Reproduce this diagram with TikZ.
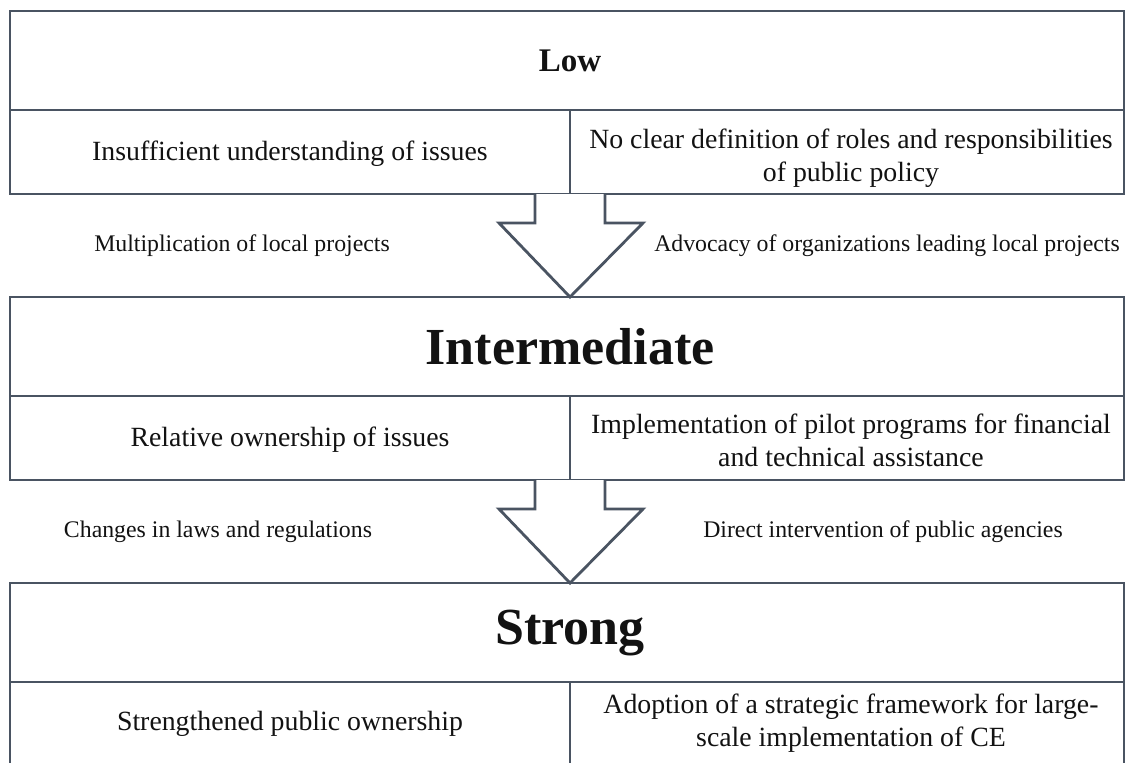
\documentclass[tikz,border=0pt]{standalone}
\usepackage{fontspec}
\setmainfont{Liberation Serif}
\definecolor{framegray}{RGB}{74,84,98}
\definecolor{inkblack}{RGB}{18,18,18}
\tikzset{
	frame/.style={draw=framegray, line width=1.4pt},
	flowarrow/.style={frame, fill=white, line join=miter},
}
\begin{document}
\begin{tikzpicture}[x=.5pt, y=-.5pt]
	\useasboundingbox[fill=white] (0, 0) rectangle (1125, 762);
	% level frames
	\foreach \top in {11, 297, 583} {
		\draw[frame] (10, \top) rectangle (1124, \top + 183);
		\draw[frame] (10, \top + 99) -- (1124, \top + 99);
		\draw[frame] (570, \top + 99) -- (570, \top + 183);
	}
	\begin{scope}[every node/.style={text=inkblack, inner sep=0pt, align=center}]
		\node[font=\fontsize{16.5}{20}\selectfont\bfseries] (low) at (570, 61) {Low};
		\node[font=\fontsize{13.9}{16.5}\selectfont] (lowL) at (290, 154) {Insufficient understanding of issues};
		\node[font=\fontsize{13.9}{16.5}\selectfont] (lowR) at (851, 158) {No clear definition of roles and responsibilities\\of public policy};
		\node[font=\fontsize{11.9}{14}\selectfont] (act1) at (242, 246) {Multiplication of local projects};
		\node[font=\fontsize{11.9}{14}\selectfont] (act2) at (887, 246) {Advocacy of organizations leading local projects};
		\node[font=\fontsize{26}{30}\selectfont\bfseries] (mid) at (570, 347) {Intermediate};
		\node[font=\fontsize{13.9}{16.5}\selectfont] (midL) at (290, 440) {Relative ownership of issues};
		\node[font=\fontsize{13.9}{16.5}\selectfont] (midR) at (851, 440) {Implementation of pilot programs for financial\\and technical assistance};
		\node[font=\fontsize{11.9}{14}\selectfont] (act3) at (218, 532) {Changes in laws and regulations};
		\node[font=\fontsize{11.9}{14}\selectfont] (act4) at (883, 532) {Direct intervention of public agencies};
		\node[font=\fontsize{26}{30}\selectfont\bfseries] (strong) at (570, 633) {Strong};
		\node[font=\fontsize{13.9}{16.5}\selectfont] (strongL) at (290, 724) {Strengthened public ownership};
		\node[font=\fontsize{13.9}{16.5}\selectfont] (strongR) at (851, 723) {Adoption of a strategic framework for large-\\scale implementation of CE};
	\end{scope}
	% transition arrows
	\coordinate (base1) at (570, 194);
	\coordinate (tip1) at (570, 297);
	\coordinate (base2) at (570, 480);
	\coordinate (tip2) at (570, 583);
	\draw[flowarrow] (base1) ++(-35, 0) -- ++(0, 29) -- ++(-36, 0) -- (tip1) -- ++(73, -74) -- ++(-38, 0) -- ++(0, -29);
	\draw[flowarrow] (base2) ++(-35, 0) -- ++(0, 29) -- ++(-36, 0) -- (tip2) -- ++(73, -74) -- ++(-38, 0) -- ++(0, -29);
\end{tikzpicture}
\end{document}
